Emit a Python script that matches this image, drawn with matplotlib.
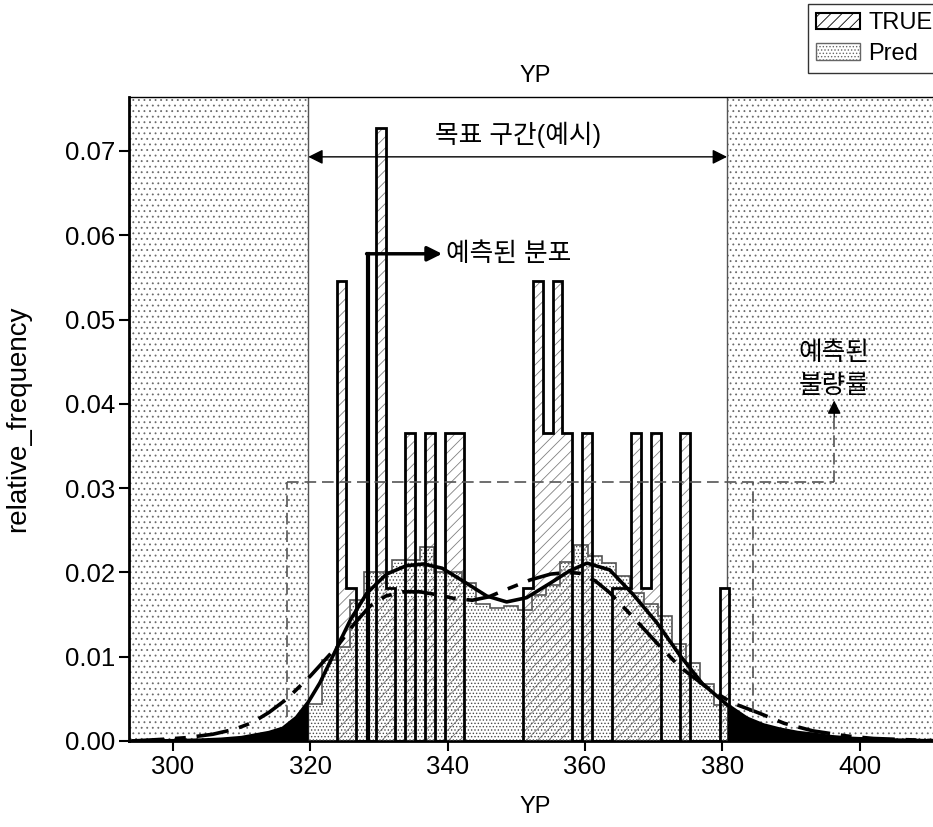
import numpy as np
import matplotlib
matplotlib.use("Agg")
import matplotlib.pyplot as plt
from matplotlib.patches import Patch

plt.rcParams['font.family'] = ['Liberation Sans', 'Noto Sans CJK KR', 'DejaVu Sans']
plt.rcParams['hatch.linewidth'] = 0.6

# ---------------- data ----------------
spec_low, spec_high = 319.7, 380.7          # target zone (example)

true_range = (323.83, 381.03)               # 40 bins
true_freq = [0.0546, 0.0182, 0.0, 0.0, 0.0727, 0.0182, 0.0, 0.0365, 0.0, 0.0365,
             0.0, 0.0365, 0.0365, 0.0, 0.0, 0.0, 0.0, 0.0, 0.0, 0.0182,
             0.0546, 0.0365, 0.0546, 0.0365, 0.0, 0.0365, 0.0, 0.0, 0.0182, 0.0182,
             0.0365, 0.0182, 0.0365, 0.0, 0.0, 0.0365, 0.0, 0.0, 0.0, 0.0182]

pred_range = (319.7, 380.8)                 # 30 bins
pred_freq = [0.0044, 0.0096, 0.0112, 0.0167, 0.0200, 0.0200, 0.0215, 0.0215, 0.0230, 0.0200,
             0.0200, 0.0188, 0.0163, 0.0158, 0.0160, 0.0155, 0.0173, 0.0185, 0.0212, 0.0232,
             0.0220, 0.0211, 0.0196, 0.0176, 0.0163, 0.0148, 0.0115, 0.0093, 0.0068, 0.0043]

# density curve of TRUE (solid)
solid_x = [294, 300, 304, 307, 310, 312, 314, 316, 318, 319.7, 321.4, 323.6, 325.8, 328.2,
           331.1, 334.0, 336.5, 339.2, 342.2, 345.7, 348.6, 351.5, 354.9, 357.8, 360.3,
           363.6, 367.0, 370.5, 373.8, 377.1, 380.7, 383.6, 386.0, 388.4, 391.0, 393.2,
           396.0, 399.0, 402.0, 405.4, 412]
solid_y = [0.0, 0.00003, 0.0001, 0.0002, 0.0004, 0.0007, 0.0010, 0.0015, 0.0028, 0.0046,
           0.0069, 0.0106, 0.0143, 0.0175, 0.0198, 0.0208, 0.0210, 0.0205, 0.0190, 0.0172,
           0.0165, 0.0170, 0.0187, 0.0202, 0.0211, 0.0203, 0.0174, 0.0140, 0.0102, 0.0068,
           0.0043, 0.0027, 0.0019, 0.0014, 0.0010, 0.0008, 0.0005, 0.0003, 0.0002, 0.0001, 0.0]

# density curve of Pred (dash-dot)
dash_x = [294, 298.5, 302, 305.8, 309, 311.6, 314, 316.6, 320.0, 323.9, 326.5, 328.7, 331,
          333.5, 336, 338.8, 341, 343.6, 346, 348.6, 352.0, 355, 357.5, 359.2, 361.5, 363.6,
          367.0, 370.5, 373.8, 377.7, 381.5, 385.4, 389, 393.2, 398.1, 402, 405.4, 412]
dash_y = [0.0, 0.0002, 0.0004, 0.0008, 0.0014, 0.0022, 0.0034, 0.0050, 0.0077, 0.0112,
          0.0140, 0.0160, 0.0172, 0.0177, 0.0177, 0.0173, 0.0169, 0.0167, 0.0171, 0.0180,
          0.0191, 0.0198, 0.0200, 0.0199, 0.0190, 0.0176, 0.0147, 0.0116, 0.0088, 0.0064,
          0.0045, 0.0033, 0.0021, 0.0012, 0.0006, 0.0003, 0.0002, 0.0]

defect_x = (316.55, 384.47)   # predicted defect rate bracket
defect_level = 0.0307

x_ticks = [300, 320, 340, 360, 380, 400]
y_ticks = [0.00, 0.01, 0.02, 0.03, 0.04, 0.05, 0.06, 0.07]

# ---------------- figure ----------------
W, H = 933, 827
fig = plt.figure(figsize=(W / 100, H / 100), dpi=100)
ax = fig.add_axes([129 / W, 86 / H, (942 - 129) / W, (741 - 97) / H])
xlim = (293.6, 412.0)
ax.set_xlim(*xlim)
ax.set_ylim(0, 0.0764)

# stippled regions outside the target zone
for a, b in [(xlim[0], spec_low), (spec_high, xlim[1])]:
    ax.axvspan(a, b, facecolor='white', edgecolor='#6a6a6a', hatch='...', lw=0, zorder=0)
for v in (spec_low, spec_high):
    ax.axvline(v, color='#555555', lw=1.0, zorder=1)

true_edges = np.linspace(true_range[0], true_range[1], len(true_freq) + 1)
pred_edges = np.linspace(pred_range[0], pred_range[1], len(pred_freq) + 1)

ax.stairs(true_freq, true_edges, baseline=0, fill=True, facecolor='white',
          edgecolor='#808080', hatch='///', lw=0, zorder=2)
ax.stairs(pred_freq, pred_edges, baseline=0, fill=True, facecolor='none',
          edgecolor='#4a4a4a', hatch='.....', lw=0, zorder=3)
ax.stairs(pred_freq, pred_edges, baseline=0, fill=False, edgecolor='#555555',
          lw=1.2, zorder=4)
ax.stairs(true_freq, true_edges, baseline=0, fill=False, edgecolor='black',
          lw=2.0, zorder=5)

sx = np.array(solid_x)
sy = np.array(solid_y)
ax.fill_between(sx, 0, sy, where=sx <= spec_low, color='black', lw=0, zorder=6)
ax.fill_between(sx, 0, sy, where=sx >= spec_high, color='black', lw=0, zorder=6)
ax.plot(solid_x, solid_y, color='black', lw=2.6, zorder=7, solid_capstyle='round')
ax.plot(dash_x, dash_y, color='black', lw=2.6, dashes=[9, 3, 3, 3], zorder=7)

kfs = 18.5
# target zone arrow
ax.annotate('', xy=(spec_low, 0.0693), xytext=(spec_high, 0.0693),
            arrowprops=dict(arrowstyle='<|-|>', color='black', lw=1.0,
                            mutation_scale=22, shrinkA=0, shrinkB=0), zorder=8)
ax.text((spec_low + spec_high) / 2, 0.0719, '목표 구간(예시)', ha='center', va='center',
        fontsize=kfs, zorder=8)

# predicted distribution pointer
ax.plot([328.4, 328.4], [0, 0.0578], color='black', lw=3.0, zorder=8)
ax.annotate('', xy=(339.2, 0.0578), xytext=(328.2, 0.0578),
            arrowprops=dict(arrowstyle='-|>', color='black', lw=2.5,
                            mutation_scale=22, shrinkA=0, shrinkB=0), zorder=8)
ax.text(339.8, 0.0578, '예측된 분포', ha='left', va='center', fontsize=kfs, zorder=8)

# predicted defect rate bracket
dash_style = dict(color='#555555', lw=1.2, dashes=(7, 3.5), zorder=8)
ax.plot([defect_x[0], 396.3], [defect_level, defect_level], **dash_style)
ax.plot([defect_x[0], defect_x[0]], [0.0028, defect_level], **dash_style)
ax.plot([defect_x[1], defect_x[1]], [0.0033, defect_level], **dash_style)
ax.plot([396.3, 396.3], [defect_level, 0.0385], **dash_style)
ax.annotate('', xy=(396.3, 0.0404), xytext=(396.3, 0.0384),
            arrowprops=dict(arrowstyle='-|>', color='black', lw=1.0,
                            mutation_scale=20, shrinkA=0, shrinkB=0), zorder=8)
ax.text(396.3, 0.0460, '예측된', ha='center', va='center', fontsize=kfs, zorder=8)
ax.text(396.3, 0.0421, '불량률', ha='center', va='center', fontsize=kfs, zorder=8)

# axes styling
ax.set_xticks(x_ticks)
ax.set_yticks(y_ticks)
ax.set_yticklabels([f'{v:.2f}' for v in y_ticks])
ax.tick_params(direction='out', length=7, width=1.5, labelsize=18.5, pad=3)
for s in ('left', 'bottom'):
    ax.spines[s].set_linewidth(2.0)
ax.spines['top'].set_linewidth(1.0)
ax.spines['right'].set_visible(False)
ax.set_title('YP', fontsize=17, pad=11)
ax.set_xlabel('YP', fontsize=17, labelpad=12)
ax.set_ylabel('relative_frequency', fontsize=20, labelpad=24)

handles = [Patch(facecolor='white', edgecolor='black', hatch='///', lw=1.5),
           Patch(facecolor='white', edgecolor='#666666', hatch='.....', lw=1.0)]
fig.legend(handles, ['TRUE', 'Pred'], loc='upper left', bbox_to_anchor=(808 / W, 1 - 4 / H),
           frameon=True, fancybox=False, edgecolor='black', fontsize=17,
           handlelength=1.85, handleheight=0.7, borderpad=0.35, labelspacing=0.35,
           handletextpad=0.35, borderaxespad=0)

fig.savefig('out.png', dpi=100)
